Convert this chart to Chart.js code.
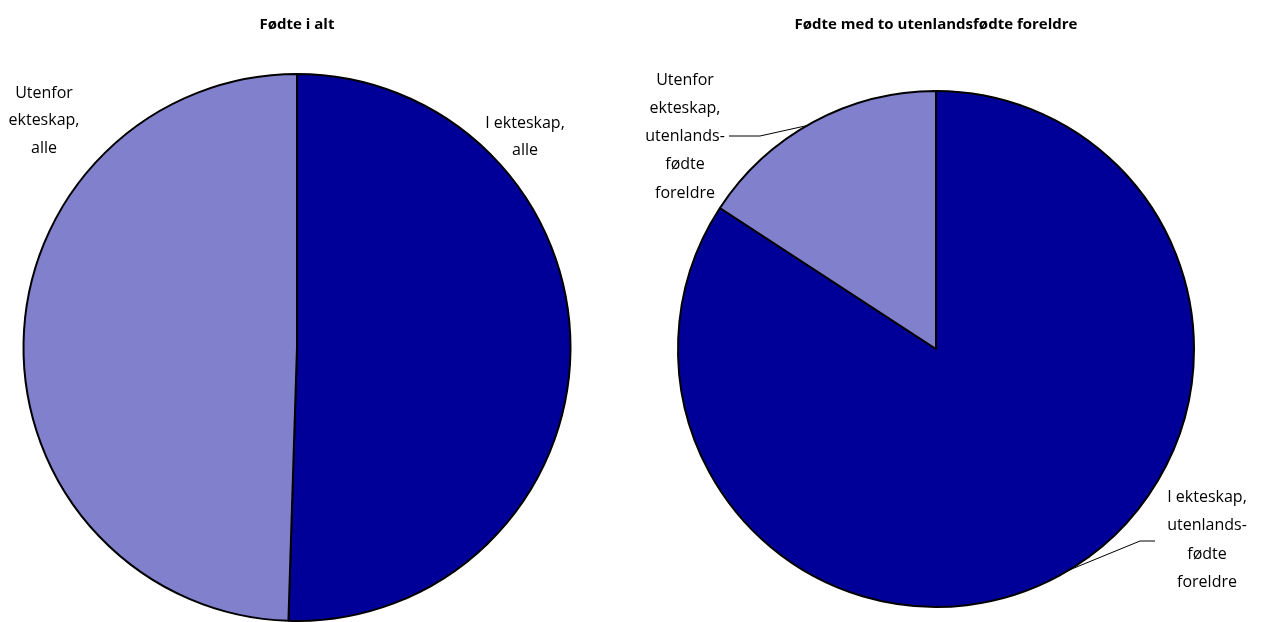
<!DOCTYPE html>
<html>
<head>
<meta charset="utf-8">
<script src="https://cdn.jsdelivr.net/npm/chart.js@4"></script>
<style>
  html, body { margin: 0; padding: 0; background: #fff; overflow: hidden; }
  .box { position: absolute; top: 0; width: 634px; height: 622px; }
</style>
</head>
<body>
<div class="box" style="left:0"><canvas id="leftPie"></canvas></div>
<div class="box" style="left:634px"><canvas id="rightPie"></canvas></div>
<script>
// Andeler (prosent)
const leftTitle = 'Fødte i alt';
const leftLabels = ['I ekteskap, alle', 'Utenfor ekteskap, alle'];
const leftValues = [50.5, 49.5];

const rightTitle = 'Fødte med to utenlandsfødte foreldre';
const rightLabels = ['I ekteskap, utenlandsfødte foreldre', 'Utenfor ekteskap, utenlandsfødte foreldre'];
const rightValues = [84.2, 15.8];

const colors = ['#000099', '#8080cc'];

// tittel og etiketter tegnes selv
const textPlugin = {
  id: 'pieText',
  afterDraw(chart, args, opts) {
    const ctx = chart.ctx;
    const arc = chart.getDatasetMeta(0).data[0];
    ctx.save();
    ctx.fillStyle = '#000';
    ctx.textAlign = 'center';
    ctx.textBaseline = 'middle';
    ctx.font = 'bold 15px "Open Sans", sans-serif';
    ctx.fillText(opts.title, arc.x, 25);

    ctx.font = '16px "Open Sans", sans-serif';
    opts.items.forEach(it => {
      it.lines.forEach((l, i) => ctx.fillText(l, it.x, it.y + i * it.gap));
      if (it.leader) {
        const a = (it.leader.angle - 90) * Math.PI / 180;
        const r = arc.outerRadius;
        ctx.strokeStyle = '#000';
        ctx.lineWidth = 1;
        ctx.beginPath();
        ctx.moveTo(it.leader.x1, it.leader.y);
        ctx.lineTo(it.leader.x2, it.leader.y);
        ctx.lineTo(arc.x + r * Math.cos(a), arc.y + r * Math.sin(a));
        ctx.stroke();
      }
    });
    ctx.restore();
  }
};

function makePie(id, labels, values, padding, title, items) {
  new Chart(document.getElementById(id), {
    type: 'pie',
    data: {
      labels: labels,
      datasets: [{
        data: values,
        backgroundColor: colors,
        borderColor: '#000',
        borderWidth: 2
      }]
    },
    options: {
      responsive: true,
      maintainAspectRatio: false,
      animation: false,
      layout: { padding: padding },
      plugins: {
        legend: { display: false },
        tooltip: { enabled: false },
        pieText: { title: title, items: items }
      }
    },
    plugins: [textPlugin]
  });
}

makePie('leftPie', leftLabels, leftValues,
  { left: 22, right: 62, top: 73, bottom: 0 },
  leftTitle,
  [
    { x: 525, y: 123, gap: 27, lines: ['I ekteskap,', 'alle'] },
    { x: 44, y: 93, gap: 27.5, lines: ['Utenfor', 'ekteskap,', 'alle'] }
  ]);

makePie('rightPie', rightLabels, rightValues,
  { left: 43, right: 73, top: 90, bottom: 14 },
  rightTitle,
  [
    { x: 1207 - 634, y: 497, gap: 28.5, lines: ['I ekteskap,', 'utenlands-', 'fødte', 'foreldre'],
      leader: { x1: 1155 - 634, x2: 1140 - 634, y: 541, angle: 149 } },
    { x: 685 - 634, y: 80, gap: 28.3, lines: ['Utenfor', 'ekteskap,', 'utenlands-', 'fødte', 'foreldre'],
      leader: { x1: 729 - 634, x2: 760 - 634, y: 136, angle: -30 } }
  ]);
</script>
</body>
</html>
